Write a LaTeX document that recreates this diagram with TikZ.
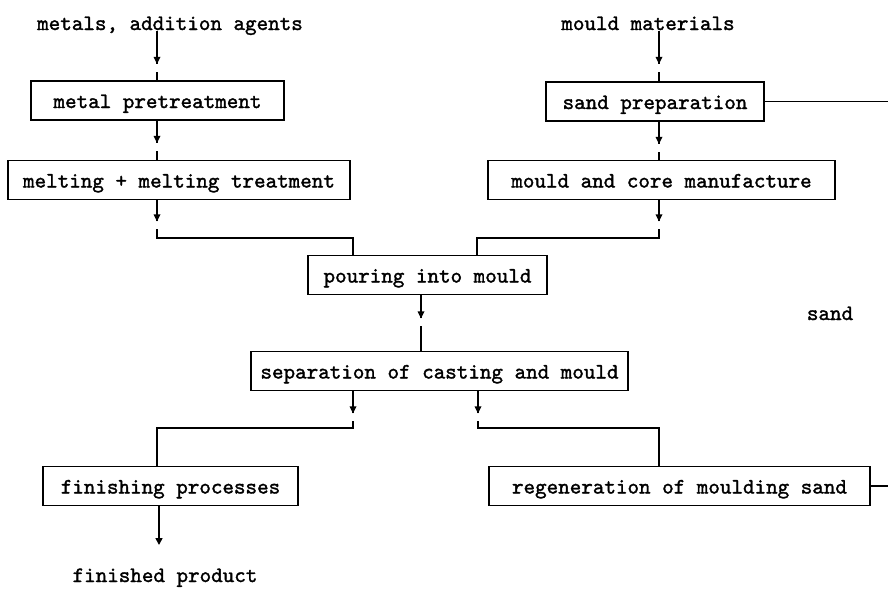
\documentclass[tikz,border=0pt]{standalone}
\usepackage{fontspec}
\setmonofont[FakeBold=1.5]{Latin Modern Mono}
\usetikzlibrary{decorations.markings,arrows.meta}

\begin{document}
\begin{tikzpicture}[x=0.5pt, y=-0.5pt, line width=0.8pt,
  every node/.style={font=\ttfamily\fontsize{11}{13}\selectfont},
  box/.style={draw, inner sep=0pt, minimum height=19.5pt, text height=8.5pt, text depth=1pt},
  lbl/.style={anchor=base, inner sep=0pt, text depth=0pt},
  flow/.style={postaction={decorate}, decoration={markings, mark=at position #1 with {
    \fill[white] (0pt,-1pt) rectangle (4pt,1pt);
    \fill (0pt,0pt) -- (-3.5pt,1.75pt) -- (-3.5pt,-1.75pt) -- cycle;}}}]
  \useasboundingbox (0,0) rectangle (888,589);

  \coordinate (colL) at (157,0);
  \coordinate (colR) at (659,0);
  \coordinate (colM) at (421,0);
  \coordinate (inL) at (353,238);
  \coordinate (inR) at (477,238);
  \coordinate (outL) at (353,428);
  \coordinate (outR) at (478,428);
  \coordinate (rim) at (888,0);
  \coordinate (out) at (159,545);

  \node[lbl] (metals) at (170,30) {metals, addition agents};
  \node[lbl] (materials) at (648,30) {mould materials};
  \node[box, minimum width=126.5pt] (pretreat) at (157.5,100.5) {metal pretreatment};
  \node[box, minimum width=171pt] (melting) at (179,180) {melting + melting treatment};
  \node[box, minimum width=109pt] (sandprep) at (655,101.5) {sand preparation};
  \node[box, minimum width=173.5pt] (mouldcore) at (661.5,180) {mould and core manufacture};
  \node[box, minimum width=119.5pt] (pouring) at (427.5,275) {pouring into mould};
  \node[box, minimum width=188.5pt] (separation) at (439.5,371) {separation of casting and mould};
  \node[box, minimum width=127.5pt] (finishing) at (170.5,486) {finishing processes};
  \node[box, minimum width=190.5pt] (regen) at (679.5,486) {regeneration of moulding sand};
  \node[lbl] (sand) at (830,320) {sand};
  \node[lbl] (product) at (165,582) {finished product};

  \draw[flow=16.5pt] (metals.south -| colL) -- (pretreat.north -| colL);
  \draw[flow=11pt] (pretreat.south -| colL) -- (melting.north -| colL);
  \draw[flow=10.5pt] (melting.south -| colL) -- (inL -| colL) -- (inL) -- (pouring.north -| inL);
  \draw[flow=16.5pt] (materials.south -| colR) -- (sandprep.north -| colR);
  \draw[flow=11pt] (sandprep.south -| colR) -- (mouldcore.north -| colR);
  \draw[flow=10.5pt] (mouldcore.south -| colR) -- (inR -| colR) -- (inR) -- (pouring.north -| inR);
  \draw[flow=11.5pt] (pouring.south -| colM) -- (separation.north -| colM);
  \draw[flow=11pt] (separation.south -| outL) -- (outL) -- (outL -| colL) -- (finishing.north -| colL);
  \draw[flow=11pt] (separation.south -| outR) -- (outR) -- (outR -| colR) -- (regen.north -| colR);
  \draw[-{Triangle[length=3.5pt,width=3.5pt]}] (finishing.south -| out) -- (out);
  \draw (sandprep.east) -- (sandprep.east -| rim);
  \draw (regen.east) -- (regen.east -| rim);
\end{tikzpicture}
\end{document}
